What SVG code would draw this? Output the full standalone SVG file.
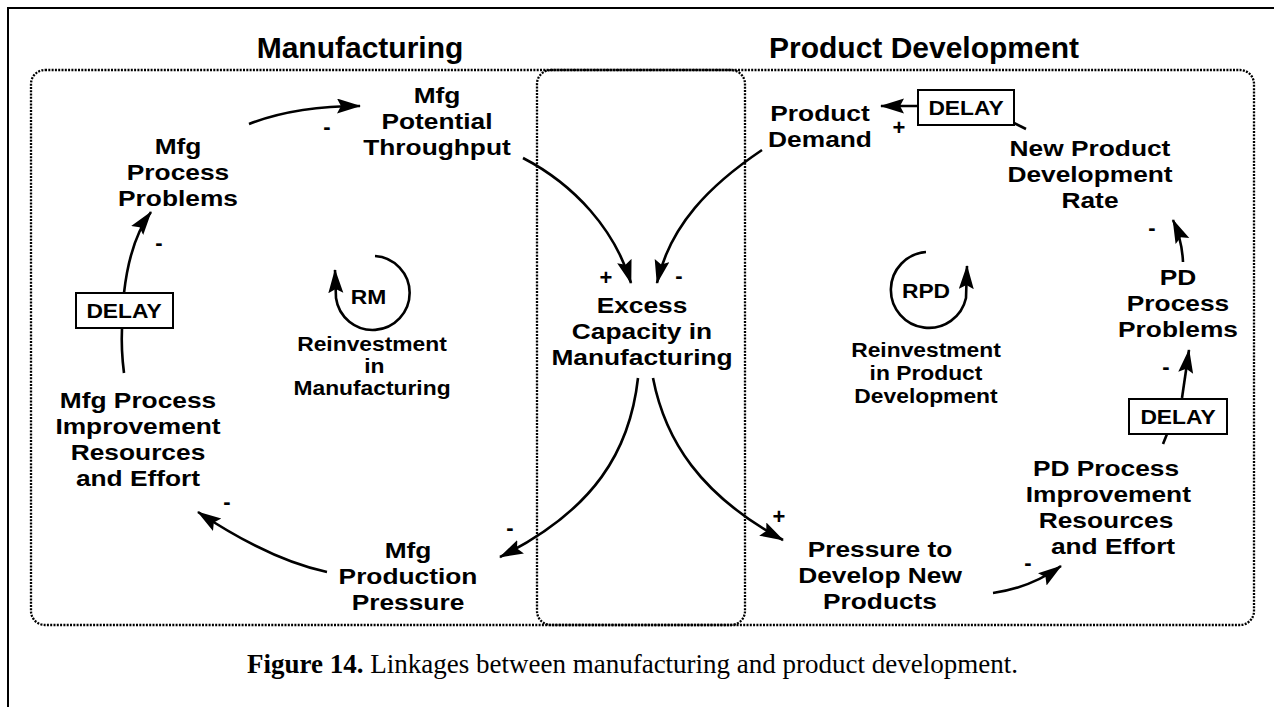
<svg xmlns="http://www.w3.org/2000/svg" width="1274" height="707" viewBox="0 0 1274 707">
<style>
.n{font-family:"Liberation Sans",Arial,sans-serif;font-weight:bold;font-size:22.5px;text-anchor:middle;fill:#000}
.t{font-family:"Liberation Sans",Arial,sans-serif;font-weight:bold;font-size:30px;text-anchor:middle;fill:#000}
.s{font-family:"Liberation Sans",Arial,sans-serif;font-weight:bold;font-size:19.5px;text-anchor:middle;fill:#000}
.sg{font-family:"Liberation Sans",Arial,sans-serif;font-weight:bold;font-size:22px;text-anchor:middle;fill:#000}
.c{font-family:"Liberation Serif","Times New Roman",serif;font-size:27px;fill:#000}
.box{fill:none;stroke:#000;stroke-width:2.3;stroke-dasharray:2 1.3}
.e{fill:none;stroke:#000;stroke-width:2.6}
.d{fill:#fff;stroke:#000;stroke-width:2}
</style>
<defs>
<marker id="ah" markerWidth="28" markerHeight="18" refX="23" refY="7.5" orient="auto" markerUnits="userSpaceOnUse">
<path d="M0,0 L24,7.5 L0,15 L4,7.5 Z" fill="#000"/>
</marker>
</defs>
<g id="frame">
<line x1="7" y1="8" x2="1274" y2="8" stroke="#000" stroke-width="2"/>
<line x1="8" y1="8" x2="8" y2="707" stroke="#000" stroke-width="2"/>
<rect class="box" x="31" y="70" width="1223" height="555" rx="14"/>
<rect class="box" x="537" y="70" width="208" height="555" rx="14"/>
<text class="t" x="360" y="58">Manufacturing</text>
<text class="t" x="924" y="58">Product Development</text>
</g>
<g id="connectors">
<path class="e" d="M249,124 Q295,106 360,106" marker-end="url(#ah)"/>
<path class="e" d="M523,158 C575,185 615,230 631,283" marker-end="url(#ah)"/>
<path class="e" d="M762,150 C710,185 670,225 657,283" marker-end="url(#ah)"/>
<path class="e" d="M638,378 C630,450 595,510 500,557" marker-end="url(#ah)"/>
<path class="e" d="M653,378 C665,440 700,495 783,540" marker-end="url(#ah)"/>
<path class="e" d="M327,572 Q270,560 198,512" marker-end="url(#ah)"/>
<path class="e" d="M124,373 Q121,350 122,328"/>
<path class="e" d="M124,293 Q130,240 151,212" marker-end="url(#ah)"/>
<path class="e" d="M918,106 L881,106" marker-end="url(#ah)"/>
<path class="e" d="M1014,123 L1026,129"/>
<path class="e" d="M1183,262 Q1182,240 1173,220" marker-end="url(#ah)"/>
<path class="e" d="M1182,398 L1189,350" marker-end="url(#ah)"/>
<path class="e" d="M1167,434 L1163,444"/>
<path class="e" d="M993,593 Q1030,588 1061,566" marker-end="url(#ah)"/>
<path class="e" d="M375,256 A37,37 0 1 1 336,298 L335,270" marker-end="url(#ah)"/>
<path class="e" d="M926,252 A38,38 0 1 0 966,298 L967,266" marker-end="url(#ah)"/>
<text class="sg" x="327" y="134">-</text>
<text class="sg" x="606" y="285">+</text>
<text class="sg" x="679" y="283">-</text>
<text class="sg" x="510" y="535">-</text>
<text class="sg" x="779" y="524">+</text>
<text class="sg" x="227" y="509">-</text>
<text class="sg" x="159" y="250">-</text>
<text class="sg" x="899" y="135">+</text>
<text class="sg" x="1152" y="235">-</text>
<text class="sg" x="1166" y="374">-</text>
<text class="sg" x="1028" y="570">-</text>
</g>
<g id="mfg-throughput" transform="translate(437,0) scale(1.17,1)"><text class="n" y="103">Mfg</text><text class="n" y="129">Potential</text><text class="n" y="155">Throughput</text></g>
<g id="mfg-problems" transform="translate(178,0) scale(1.17,1)"><text class="n" y="154">Mfg</text><text class="n" y="180">Process</text><text class="n" y="206">Problems</text></g>
<g id="mfg-delay"><rect class="d" x="76" y="293" width="97" height="35"/><text class="s" transform="translate(124,0) scale(1.17,1)" y="318" font-size="20.5px">DELAY</text></g>
<g id="mfg-improvement" transform="translate(138,0) scale(1.17,1)"><text class="n" y="408">Mfg Process</text><text class="n" y="434">Improvement</text><text class="n" y="460">Resources</text><text class="n" y="486">and Effort</text></g>
<g id="mfg-pressure" transform="translate(408,0) scale(1.17,1)"><text class="n" y="558">Mfg</text><text class="n" y="584">Production</text><text class="n" y="610">Pressure</text></g>
<g id="loop-rm" transform="translate(372,0) scale(1.17,1)"><text class="s" x="-3" y="304">RM</text><text class="s" y="351">Reinvestment</text><text class="s" x="2" y="373">in</text><text class="s" y="395">Manufacturing</text></g>
<g id="excess" transform="translate(642,0) scale(1.17,1)"><text class="n" y="313">Excess</text><text class="n" y="339">Capacity in</text><text class="n" y="365">Manufacturing</text></g>
<g id="demand" transform="translate(820,0) scale(1.17,1)"><text class="n" y="121">Product</text><text class="n" y="147">Demand</text></g>
<g id="pd-delay-top"><rect class="d" x="918" y="90" width="96" height="35"/><text class="s" transform="translate(966,0) scale(1.17,1)" y="115" font-size="20.5px">DELAY</text></g>
<g id="npd-rate" transform="translate(1090,0) scale(1.17,1)"><text class="n" y="156">New Product</text><text class="n" y="182">Development</text><text class="n" y="208">Rate</text></g>
<g id="pd-problems" transform="translate(1178,0) scale(1.17,1)"><text class="n" y="285">PD</text><text class="n" y="311">Process</text><text class="n" y="337">Problems</text></g>
<g id="pd-delay"><rect class="d" x="1129" y="399" width="98" height="35"/><text class="s" transform="translate(1178,0) scale(1.17,1)" y="424" font-size="20.5px">DELAY</text></g>
<g id="pd-improvement" transform="translate(1106,0) scale(1.17,1)"><text class="n" y="476">PD Process</text><text class="n" x="2" y="502">Improvement</text><text class="n" y="528">Resources</text><text class="n" x="6" y="554">and Effort</text></g>
<g id="pd-pressure" transform="translate(880,0) scale(1.17,1)"><text class="n" y="557">Pressure to</text><text class="n" y="583">Develop New</text><text class="n" y="609">Products</text></g>
<g id="loop-rpd" transform="translate(926,0) scale(1.17,1)"><text class="s" y="298">RPD</text><text class="s" y="357">Reinvestment</text><text class="s" y="380">in Product</text><text class="s" y="403">Development</text></g>
<text class="c" x="247" y="673"><tspan font-weight="bold">Figure 14.</tspan>  Linkages between manufacturing and product development.</text>
</svg>
